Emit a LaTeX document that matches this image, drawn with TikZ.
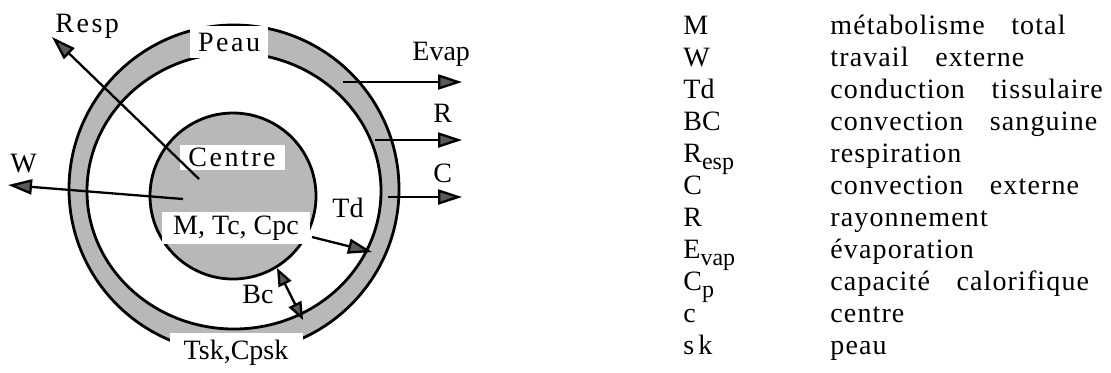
\documentclass[tikz,border=0pt]{standalone}
\usepackage{fontspec}
\setmainfont{Liberation Serif}
\newfontfamily\spaced[LetterSpace=9]{Liberation Serif}
\newfontfamily\legfont[LetterSpace=4]{Liberation Serif}
\usetikzlibrary{arrows.meta}

% small lowered index in the legend
\newcommand\sub[1]{\raisebox{-0.55ex}{\fontsize{12}{13}\selectfont #1}}

\begin{document}
\begin{tikzpicture}[
  x=0.5pt, y=-0.5pt,
  font=\fontsize{14}{16}\selectfont,
  skin/.style={fill=black!28},
  wall/.style={line width=1.4pt},
  flux/.style={line width=1.15pt, -{Triangle[length=12pt,width=7.5pt,fill=black!65]}},
  flux2/.style={line width=1.15pt, {Triangle[length=9pt,width=7pt,fill=black!65]}-{Triangle[length=9pt,width=7pt,fill=black!65]}},
  cover/.style={fill=white, inner sep=0pt},
  lbl/.style={anchor=base west, inner sep=0pt},
  desc/.style={anchor=base west, inner sep=0pt, font={\fontsize{14}{16}\legfont\spaceskip=0.95em\relax}},
]
\useasboundingbox (0,0) rectangle (1111,372);

% rings
\coordinate (ring) at (234,189);
\coordinate (ringin) at (234,191);
\coordinate (core) at (233,196);
\fill[skin, even odd rule] (ring) ellipse (165 and 164) (ringin) ellipse (147 and 138);
\draw[wall] (ring) ellipse (165 and 164);
\draw[wall] (ringin) ellipse (147 and 138);
\draw[wall, skin] (core) circle (83);

% texts on white
\node[cover, minimum width=39pt, minimum height=16pt] (peau) at (229,42) {\spaced Peau};
\node[cover, minimum width=66.5pt, minimum height=20pt] (tsk) at (236,353) {Tsk,Cpsk};
\node[cover, minimum width=52.5pt, minimum height=12.5pt] (centre) at (232,157) {\spaced Centre};
\node[cover, minimum width=74pt, minimum height=16pt] (mtc) at (236,228) {M, Tc, Cpc};

% fluxes
\coordinate (respIn) at (199,179);
\coordinate (respOut) at (52,37);
\coordinate (wIn) at (183,199);
\coordinate (wOut) at (8,185);
\coordinate (evapIn) at (343,82);
\coordinate (evapOut) at (462,82);
\coordinate (rIn) at (375,140);
\coordinate (rOut) at (462,140);
\coordinate (cIn) at (388,197);
\coordinate (cOut) at (462,197);
\coordinate (tdIn) at (312,237);
\coordinate (tdOut) at (372,252);
\coordinate (bcIn) at (277,268);
\coordinate (bcOut) at (303,320);
\draw[flux] (respIn) -- (respOut);
\draw[flux] (wIn) -- (wOut);
\draw[flux] (evapIn) -- (evapOut);
\draw[flux] (rIn) -- (rOut);
\draw[flux] (cIn) -- (cOut);
\draw[flux] (tdIn) -- (tdOut);
\draw[flux2] (bcIn) -- (bcOut);

% labels
\node[lbl] (resp) at (55,32) {\spaced Resp};
\node[lbl] (evap) at (412,60) {Evap};
\node[lbl] (r) at (433,122) {R};
\node[lbl] (c) at (433,182) {C};
\node[lbl] (w) at (10,172) {W};
\node[lbl] (td) at (332,217) {Td};
\node[lbl] (bc) at (242,303) {Bc};

% legend
\foreach \s/\d [count=\i from 0] in {M/métabolisme total, W/travail externe,
    Td/conduction tissulaire, BC/convection sanguine, R\sub{esp}/respiration,
    C/convection externe, R/rayonnement, E\sub{vap}/évaporation,
    C\sub{p}/capacité calorifique, c/centre, s\hspace{2pt}k/peau} {
  \node[lbl] (sym\i) at (683,34+32*\i) {\s};
  \node[desc] (desc\i) at (830,34+32*\i) {\d};
}
\end{tikzpicture}
\end{document}
